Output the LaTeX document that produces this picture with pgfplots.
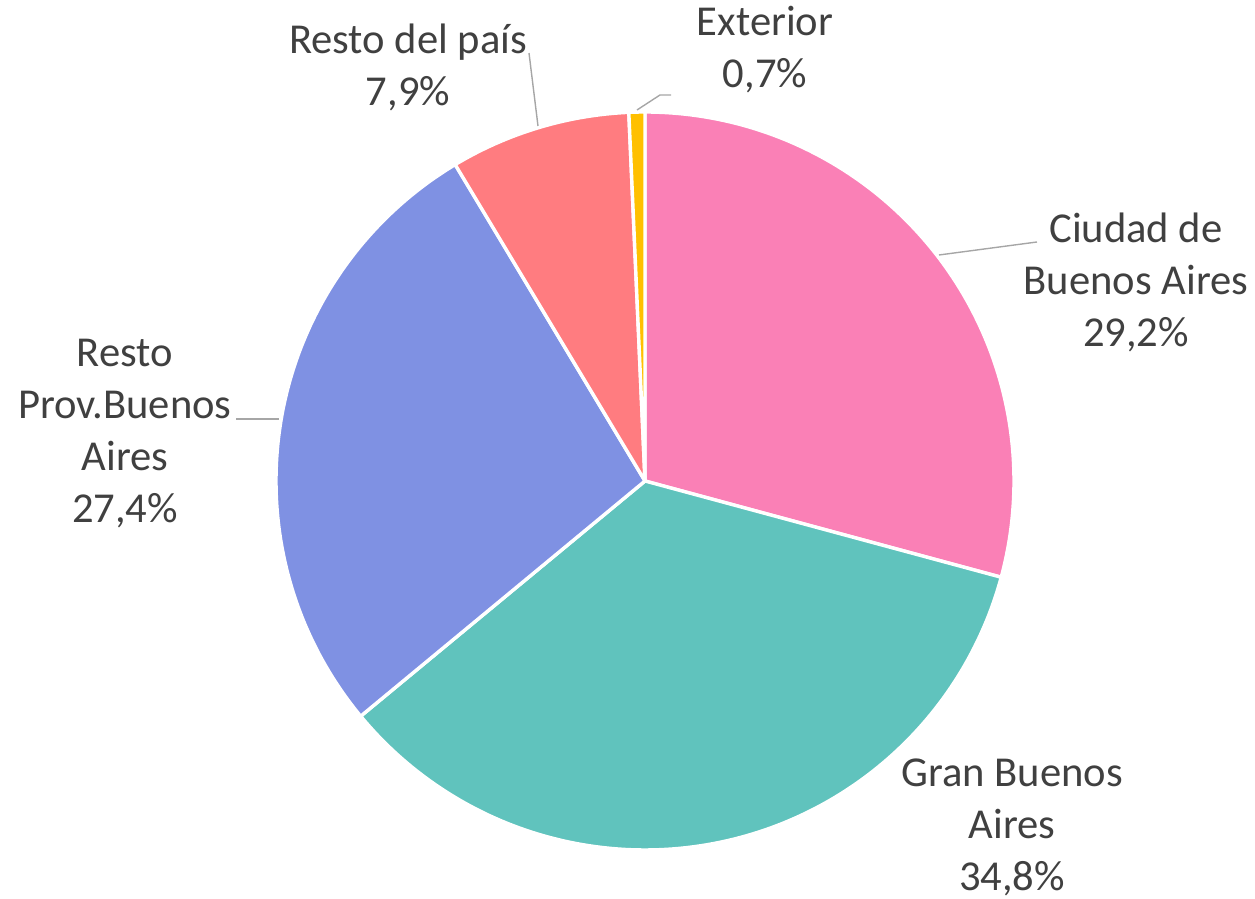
\documentclass[border=0pt]{standalone}
\usepackage{pgfplots}
\pgfplotsset{compat=1.18}
\usepackage{fontspec}
\setmainfont{Carlito}
\definecolor{cCiudad}{RGB}{250,128,182}
\definecolor{cGBA}{RGB}{96,195,189}
\definecolor{cProv}{RGB}{127,145,227}
\definecolor{cPais}{RGB}{255,124,128}
\definecolor{cExt}{RGB}{255,192,0}
\definecolor{txt}{RGB}{64,64,64}
\definecolor{lead}{RGB}{166,166,166}
\tikzset{lbl/.style={anchor=base, inner sep=0pt, text=txt, font=\fontsize{21.3}{26}\selectfont}}
\pgfplotsset{leader/.style={draw=lead, line width=0.7pt, mark=none}}
\begin{document}
\begin{tikzpicture}
\begin{axis}[hide axis, x=0.5pt, y=0.5pt, xmin=0, xmax=1255, ymin=0, ymax=899,
  scale only axis, clip=false]
\path (axis cs:0,0) rectangle (axis cs:1255,899);
\def\cum{90}
\foreach \v/\c in {29.2/cCiudad,34.8/cGBA,27.4/cProv,7.9/cPais,0.7/cExt}{
  \pgfmathsetmacro\a{\cum}
  \pgfmathsetmacro\b{\cum-3.6*\v}
  \edef\tmp{\noexpand\addplot[fill=\c, draw=white, line width=1.7pt, line join=round, mark=none, domain=\b:\a, samples=120] ({645+369*cos(x)},{418+369*sin(x)}) -- (axis cs:645,418) -- cycle;}
  \tmp
  \xdef\cum{\b}
}
% leader lines
\addplot[leader] coordinates {(939,644) (1037,657)};
\addplot[leader] coordinates {(236,480) (279,480)};
\addplot[leader] coordinates {(529,846) (538,773)};
\addplot[leader] coordinates {(637,789) (660,804) (671,804)};
% labels
\node[lbl] at (axis cs:1136,656) {Ciudad de};
\node[lbl] at (axis cs:1136,604) {Buenos Aires};
\node[lbl] at (axis cs:1136,552) {29,2\%};
\node[lbl] at (axis cs:1012,112) {Gran Buenos};
\node[lbl] at (axis cs:1012,60) {Aires};
\node[lbl] at (axis cs:1012,8) {34,8\%};
\node[lbl] at (axis cs:125,532) {Resto};
\node[lbl] at (axis cs:125,480) {Prov.Buenos};
\node[lbl] at (axis cs:125,428) {Aires};
\node[lbl] at (axis cs:125,376) {27,4\%};
\node[lbl] at (axis cs:408,845) {Resto del país};
\node[lbl] at (axis cs:408,793) {7,9\%};
\node[lbl] at (axis cs:765,863) {Exterior};
\node[lbl] at (axis cs:765,811) {0,7\%};
\end{axis}
\end{tikzpicture}
\end{document}
